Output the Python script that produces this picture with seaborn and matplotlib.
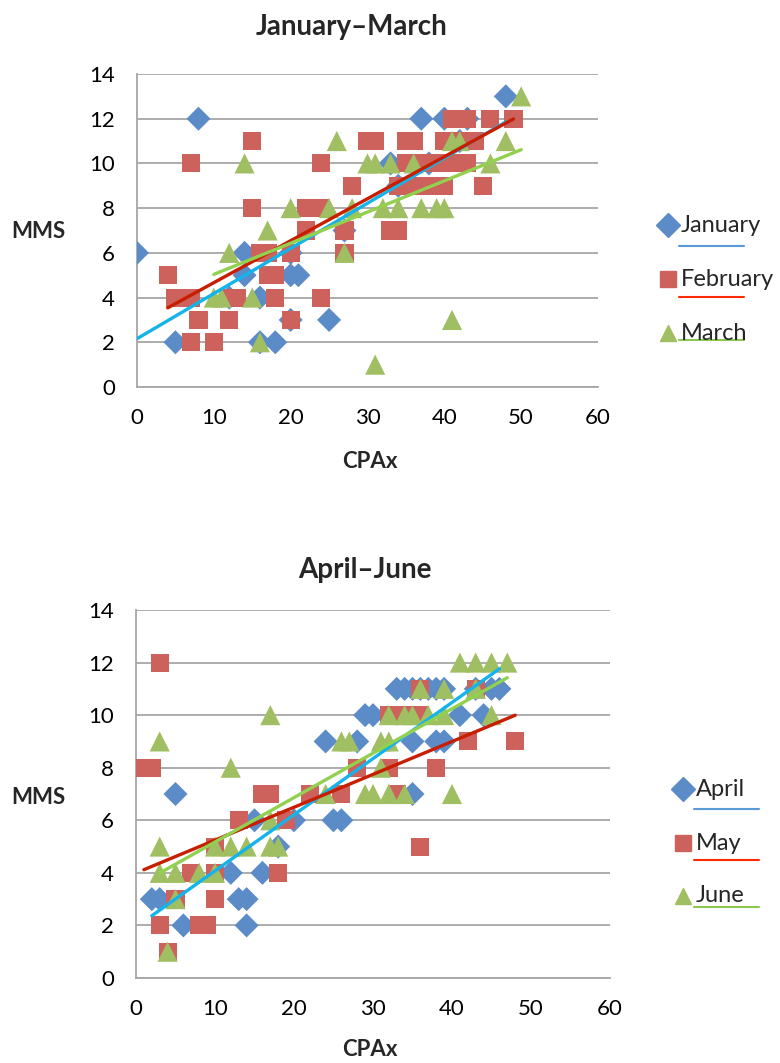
import matplotlib
matplotlib.use('Agg')
import matplotlib.pyplot as plt
import pandas as pd
import seaborn as sb
from matplotlib.lines import Line2D

# ---- data (CPAx vs MMS) ----
jan_x = [0, 5, 8, 12, 14, 14, 16, 16, 18, 20, 20, 20, 21, 25, 27, 33, 34, 37, 38, 40, 42, 43, 48]
jan_y = [6, 2, 12, 4, 5, 6, 2, 4, 2, 5, 3, 6, 5, 3, 7, 10, 9, 12, 10, 12, 11, 12, 13]

feb_x = [4, 5, 7, 7, 7, 8, 10, 12, 12, 13, 15, 15, 16, 17, 17, 18, 18, 20, 20, 22, 22, 24, 24, 24,
         27, 27, 28, 30, 31, 33, 34, 34, 35, 35, 36, 36, 37, 38, 38, 39, 40, 40, 41, 41, 42, 42,
         43, 43, 44, 45, 46, 49]
feb_y = [5, 4, 4, 2, 10, 3, 2, 3, 4, 4, 11, 8, 6, 6, 5, 4, 5, 6, 3, 8, 7, 8, 10, 4,
         7, 6, 9, 11, 11, 7, 7, 9, 10, 11, 11, 9, 10, 9, 10, 10, 9, 11, 10, 12, 11, 12,
         10, 12, 11, 9, 12, 12]

mar_x = [10, 11, 12, 14, 15, 16, 17, 20, 25, 26, 27, 28, 30, 31, 31, 32, 33, 34, 36, 37, 39, 40,
         41, 41, 42, 46, 48, 50]
mar_y = [4, 4, 6, 10, 4, 2, 7, 8, 8, 11, 6, 8, 10, 10, 1, 8, 10, 8, 10, 8, 8, 8,
         3, 11, 11, 10, 11, 13]

apr_x = [2, 3, 5, 6, 12, 13, 14, 14, 15, 16, 18, 20, 24, 25, 26, 28, 29, 30, 33, 34, 35, 35, 35,
         36, 37, 38, 38, 39, 39, 41, 43, 44, 45, 46]
apr_y = [3, 3, 7, 2, 4, 3, 2, 3, 6, 4, 5, 6, 9, 6, 6, 9, 10, 10, 11, 11, 9, 7, 11,
         11, 11, 11, 9, 11, 9, 10, 11, 10, 11, 11]

may_x = [1, 2, 3, 3, 4, 5, 7, 8, 9, 10, 10, 10, 13, 16, 17, 18, 19, 22, 26, 28,
         32, 32, 33, 34, 36, 36, 36, 38, 42, 43, 48]
may_y = [8, 8, 12, 2, 1, 3, 4, 2, 2, 3, 4, 5, 6, 7, 7, 4, 6, 7, 7, 8,
         10, 8, 7, 10, 10, 11, 5, 8, 9, 11, 9]

jun_x = [3, 3, 3, 4, 5, 5, 8, 10, 10, 12, 12, 14, 17, 17, 17, 18, 24, 26, 27, 29, 30, 31, 31,
         32, 32, 32, 34, 34, 35, 36, 37, 39, 39, 40, 41, 43, 43, 45, 45, 47]
jun_y = [9, 5, 4, 1, 4, 3, 4, 4, 5, 8, 5, 5, 10, 6, 5, 5, 7, 9, 9, 7, 7, 9, 8,
         9, 7, 10, 10, 7, 10, 11, 10, 10, 11, 7, 12, 12, 11, 12, 10, 12]

panels = [
    ('January\u2013March', [('January', jan_x, jan_y), ('February', feb_x, feb_y), ('March', mar_x, mar_y)]),
    ('April\u2013June', [('April', apr_x, apr_y), ('May', may_x, may_y), ('June', jun_x, jun_y)]),
]

marker_col = ['#5B8CC8', '#CD615C', '#A0BE62']
markers = ['D', 's', '^']
msize = [150, 170, 210]
trend_col = ['#14B4EA', '#C81E00', '#92D050']
legend_line_col = ['#5B9BD5', '#FF2A00', '#8CC850']

sb.set_style('white')
plt.rcParams['font.family'] = ['Lato', 'DejaVu Sans']

fig = plt.figure(figsize=(7.8, 10.63), dpi=100)
axes_pos = [[137 / 780, 1 - 387 / 1063, 461 / 780, 313 / 1063],
            [136 / 780, 1 - 978 / 1063, 474 / 780, 368 / 1063]]
title_xy = [(352, 27), (365, 570)]
xlab_y = [462, 1050]
ylab_y = [232, 797]
leg_y = [[225, 279, 333], [789, 843, 896]]
leg_line_y = [[246, 297, 340], [809, 860, 907]]
leg_mark_x = [668, 683]

for p, (title, series) in enumerate(panels):
    ax = fig.add_axes(axes_pos[p])
    for i, (name, xs, ys) in enumerate(series):
        df = pd.DataFrame({'CPAx': xs, 'MMS': ys})
        sb.scatterplot(data=df, x='CPAx', y='MMS', marker=markers[i], color=marker_col[i],
                       s=msize[i], edgecolor='none', linewidth=0, ax=ax, zorder=3 + i, legend=False)
    for i, (name, xs, ys) in enumerate(series):
        df = pd.DataFrame({'CPAx': xs, 'MMS': ys})
        sb.regplot(data=df, x='CPAx', y='MMS', scatter=False, ci=None, truncate=True, ax=ax,
                   line_kws={'color': trend_col[i], 'lw': 2.4, 'zorder': 10 + i})

    ax.set_xlim(0, 60)
    ax.set_ylim(0, 14)
    ax.set_xticks(range(0, 61, 10))
    ax.set_yticks(range(0, 15, 2))
    ax.yaxis.grid(True, color='#A6A6A6', lw=1.3)
    ax.xaxis.grid(False)
    ax.set_axisbelow(True)
    for s in ['top', 'right']:
        ax.spines[s].set_visible(False)
    for s in ['left', 'bottom']:
        ax.spines[s].set_color('#A6A6A6')
        ax.spines[s].set_linewidth(1.3)
    ax.tick_params(axis='both', colors='#A6A6A6', labelcolor='black', labelsize=16,
                   length=6, width=1.3, direction='out')
    ax.tick_params(axis='x', pad=9)
    ax.tick_params(axis='y', pad=10)
    ax.set_xlabel('')
    ax.set_ylabel('')
    ax.set_title('')
    fig.text(title_xy[p][0] / 780, 1 - title_xy[p][1] / 1063, title,
             ha='center', va='center', fontsize=20, fontweight='bold')
    fig.text(370 / 780, 1 - xlab_y[p] / 1063, 'CPAx', ha='center', va='center', fontsize=16, fontweight='bold')
    fig.text(38 / 780, 1 - ylab_y[p] / 1063, 'MMS', ha='center', va='center',
             fontsize=16, fontweight='bold')

    # legend: marker + name, trend line sample underneath
    for i, (name, xs, ys) in enumerate(series):
        my = 1 - leg_y[p][i] / 1063
        mx = leg_mark_x[p] / 780
        fig.add_artist(Line2D([mx], [my], marker=markers[i], color=marker_col[i], markersize=12,
                              linestyle='none', transform=fig.transFigure))
        fig.text(mx + 13 / 780, my, name, ha='left', va='center', fontsize=17)
        ly = 1 - leg_line_y[p][i] / 1063
        fig.add_artist(Line2D([mx + 11 / 780, mx + 76 / 780], [ly, ly], color=legend_line_col[i],
                              lw=1.5, transform=fig.transFigure))

fig.savefig('out.png', dpi=100)
